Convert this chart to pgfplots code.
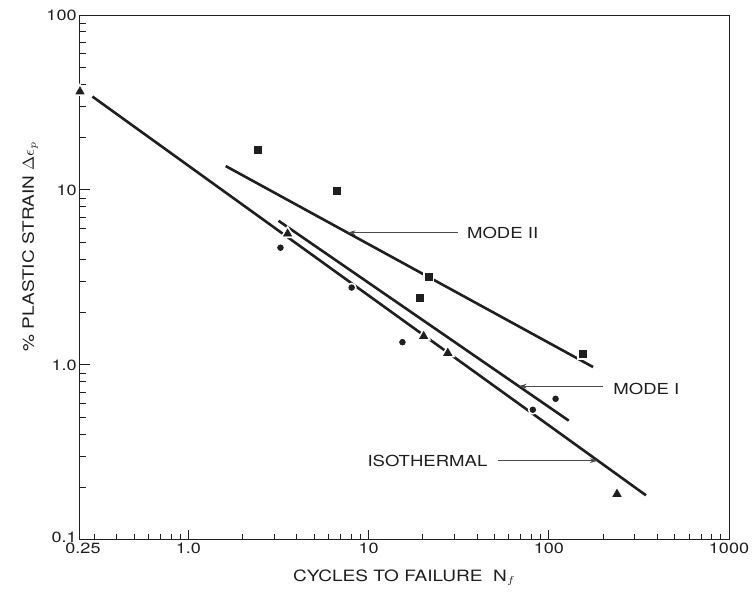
\documentclass[border=0pt]{standalone}
\usepackage{fontspec}
\setmainfont{TeX Gyre Heros}[FakeStretch=1.22]
\usepackage{pgfplots}
\pgfplotsset{compat=1.18}
\usetikzlibrary{arrows.meta}

\definecolor{ink}{gray}{0.12}

\begin{document}
\begin{tikzpicture}
\begin{loglogaxis}[
    scale only axis,
    width=324.5pt, height=262.5pt,
    xmin=0.25, xmax=1000,
    ymin=0.1, ymax=100,
    xtick={0.25,1,10,100,1000},
    xticklabels={\hspace*{3pt}0.25,1.0,10,100,1000},
    ytick={0.1,1,10,100},
    yticklabels={\raisebox{3pt}{0.1},1.0,10,100},
    minor xtick={0.3,0.4,0.5,0.6,0.7,0.8,0.9,2,3,4,5,6,7,8,9,20,30,40,50,60,70,80,90,200,300,400,500,600,700,800,900},
    minor ytick={0.2,0.3,0.4,0.5,0.6,0.7,0.8,0.9,2,3,4,5,6,7,8,9,20,30,40,50,60,70,80,90},
    tick pos=left, tick align=inside,
    major tick length=5pt, minor tick length=2.8pt,
    every tick/.style={ink, line width=0.5pt},
    axis line style={ink, line width=0.5pt},
    tick label style={font=\fontsize{7.4}{8}\selectfont, text=ink},
    xticklabel style={inner sep=1.5pt},
    yticklabel style={inner sep=1.5pt},
    xlabel={CYCLES TO FAILURE\ \ N$_{f}$},
    ylabel={\% PLASTIC STRAIN $\Delta\epsilon_{p}$},
    label style={font=\fontsize{7.8}{9}\selectfont, text=ink},
    xlabel style={at={(axis description cs:0.5,-0.072)}, anchor=center},
    ylabel style={at={(axis description cs:-0.077,0.56)}, anchor=center},
    clip=false,
]
% fitted lines
\addplot[ink, line width=1.3pt] coordinates {(0.293,34.2) (346,0.180)};   % isothermal
\addplot[ink, line width=1.3pt] coordinates {(3.16,6.67) (129,0.481)};    % mode I
\addplot[ink, line width=1.3pt] coordinates {(1.61,13.7) (176,0.974)};    % mode II

% white halos so the lines break round the points
\addplot[only marks, mark=square*, mark size=1.75pt, mark options={draw=white, fill=white, line width=2pt}]
  coordinates {(2.42,16.9) (6.64,9.87) (21.5,3.2) (19.2,2.43) (154,1.155)};
\addplot[only marks, mark=*, mark size=1.4pt, mark options={draw=white, fill=white, line width=2pt}]
  coordinates {(3.24,4.68) (8.05,2.77) (15.4,1.35) (109,0.641) (81.5,0.555)};
\addplot[only marks, mark=triangle*, mark size=2.3pt, mark options={draw=white, fill=white, line width=2pt}]
  coordinates {(0.25,36.5) (3.55,5.62) (20.2,1.46) (27.5,1.17) (239,0.183)};

% mode II: squares
\addplot[only marks, mark=square*, mark size=1.75pt, mark options={draw=ink, fill=ink}]
  coordinates {(2.42,16.9) (6.64,9.87) (21.5,3.2) (19.2,2.43) (154,1.155)};
% mode I: circles
\addplot[only marks, mark=*, mark size=1.4pt, mark options={draw=ink, fill=ink}]
  coordinates {(3.24,4.68) (8.05,2.77) (15.4,1.35) (109,0.641) (81.5,0.555)};
% isothermal: triangles
\addplot[only marks, mark=triangle*, mark size=2.3pt, mark options={draw=ink, fill=ink}]
  coordinates {(0.25,36.5) (3.55,5.62) (20.2,1.46) (27.5,1.17) (239,0.183)};

% labels with leader arrows
\draw[ink!80, line width=0.45pt, -{Stealth[length=4pt,width=2.4pt]}] (axis cs:31.2,5.70) -- (axis cs:7.64,5.70);
\node[anchor=west, inner sep=0pt, font=\fontsize{7.6}{8}\selectfont, text=ink] at (axis cs:35,5.66) {MODE II};
\draw[ink!80, line width=0.45pt, -{Stealth[length=4pt,width=2.4pt]}] (axis cs:199,0.757) -- (axis cs:68.1,0.757);
\node[anchor=west, inner sep=0pt, font=\fontsize{7.6}{8}\selectfont, text=ink] at (axis cs:227,0.73) {MODE I};
\draw[ink!80, line width=0.45pt, -{Stealth[length=4pt,width=2.4pt]}] (axis cs:52.1,0.284) -- (axis cs:187,0.284);
\node[anchor=east, inner sep=0pt, font=\fontsize{7.6}{8}\selectfont, text=ink] at (axis cs:45.8,0.284) {ISOTHERMAL};

\coordinate (SW) at (rel axis cs:0,0);
\coordinate (NE) at (rel axis cs:1,1);
\end{loglogaxis}
\pgfresetboundingbox
\path[use as bounding box] ([shift={(-40pt,-26.5pt)}]SW) rectangle ([shift={(13.5pt,7.5pt)}]NE);
\end{tikzpicture}
\end{document}
